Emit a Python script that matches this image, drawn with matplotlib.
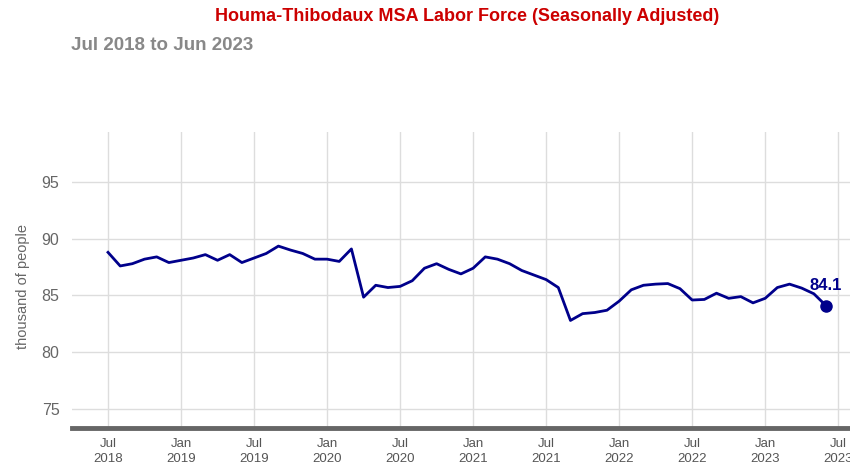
import matplotlib.pyplot as plt

plt.rcParams['font.family'] = ['Liberation Sans', 'DejaVu Sans']

# monthly labor force, thousands, Jul 2018 .. Jun 2023
labor = [88.8, 87.6, 87.8, 88.2, 88.4, 87.9, 88.1, 88.3, 88.6, 88.1, 88.6, 87.9,
         88.3, 88.7, 89.35, 89.0, 88.7, 88.2, 88.2, 88.0, 89.1, 84.85, 85.9, 85.7,
         85.8, 86.3, 87.4, 87.8, 87.3, 86.9, 87.4, 88.4, 88.2, 87.8, 87.2, 86.8,
         86.4, 85.7, 82.8, 83.4, 83.5, 83.7, 84.5, 85.5, 85.9, 86.0, 86.05, 85.6,
         84.6, 84.65, 85.2, 84.75, 84.9, 84.35, 84.75, 85.7, 86.0, 85.65, 85.15, 84.1]
tick_labels = ['Jul\n2018', 'Jan\n2019', 'Jul\n2019', 'Jan\n2020', 'Jul\n2020', 'Jan\n2021',
               'Jul\n2021', 'Jan\n2022', 'Jul\n2022', 'Jan\n2023', 'Jul\n2023']
y_ticks = [75, 80, 85, 90, 95]

months = list(range(len(labor)))
tick_pos = list(range(0, 61, 6))

fig = plt.figure(figsize=(8.5, 4.67), dpi=100)
ax = fig.add_axes([0.0847, 0.0829, 0.9153, 0.6344])

ax.plot(months, labor, color='#00008b', lw=2.0, zorder=3)
ax.plot(months[-1], labor[-1], 'o', color='#00008b', ms=8, zorder=4)
ax.annotate('%.1f' % labor[-1], (months[-1], labor[-1]), xytext=(0, 9),
            textcoords='offset points', ha='center', va='bottom',
            color='#00008b', fontsize=12, fontweight='bold')

ax.set_xlim(-2.96, 60.97)
ax.set_ylim(73.3, 99.4)
ax.set_xticks(tick_pos)
ax.set_xticklabels(tick_labels, fontsize=9.5, color='#555555', linespacing=1.35)
ax.set_yticks(y_ticks)
ax.tick_params(axis='y', labelsize=11.5, labelcolor='#666666', length=0, pad=9)
ax.tick_params(axis='x', length=0, pad=7)
ax.grid(True, color='#dddddd', lw=1)
ax.set_axisbelow(True)
for side in ['left', 'right', 'top']:
    ax.spines[side].set_visible(False)
ax.spines['bottom'].set_color('#666666')
ax.spines['bottom'].set_linewidth(3.5)
ax.set_ylabel('thousand of people', fontsize=10.5, color='#666666')
ax.yaxis.set_label_coords(-0.054, 0.48)

fig.text(0.55, 0.965, 'Houma-Thibodaux MSA Labor Force (Seasonally Adjusted)',
         ha='center', va='center', color='#cc0000', fontsize=13, fontweight='bold')
fig.text(0.084, 0.903, 'Jul 2018 to Jun 2023', ha='left', va='center',
         color='#888888', fontsize=13.5, fontweight='bold')

fig.savefig('out.png', dpi=100)
